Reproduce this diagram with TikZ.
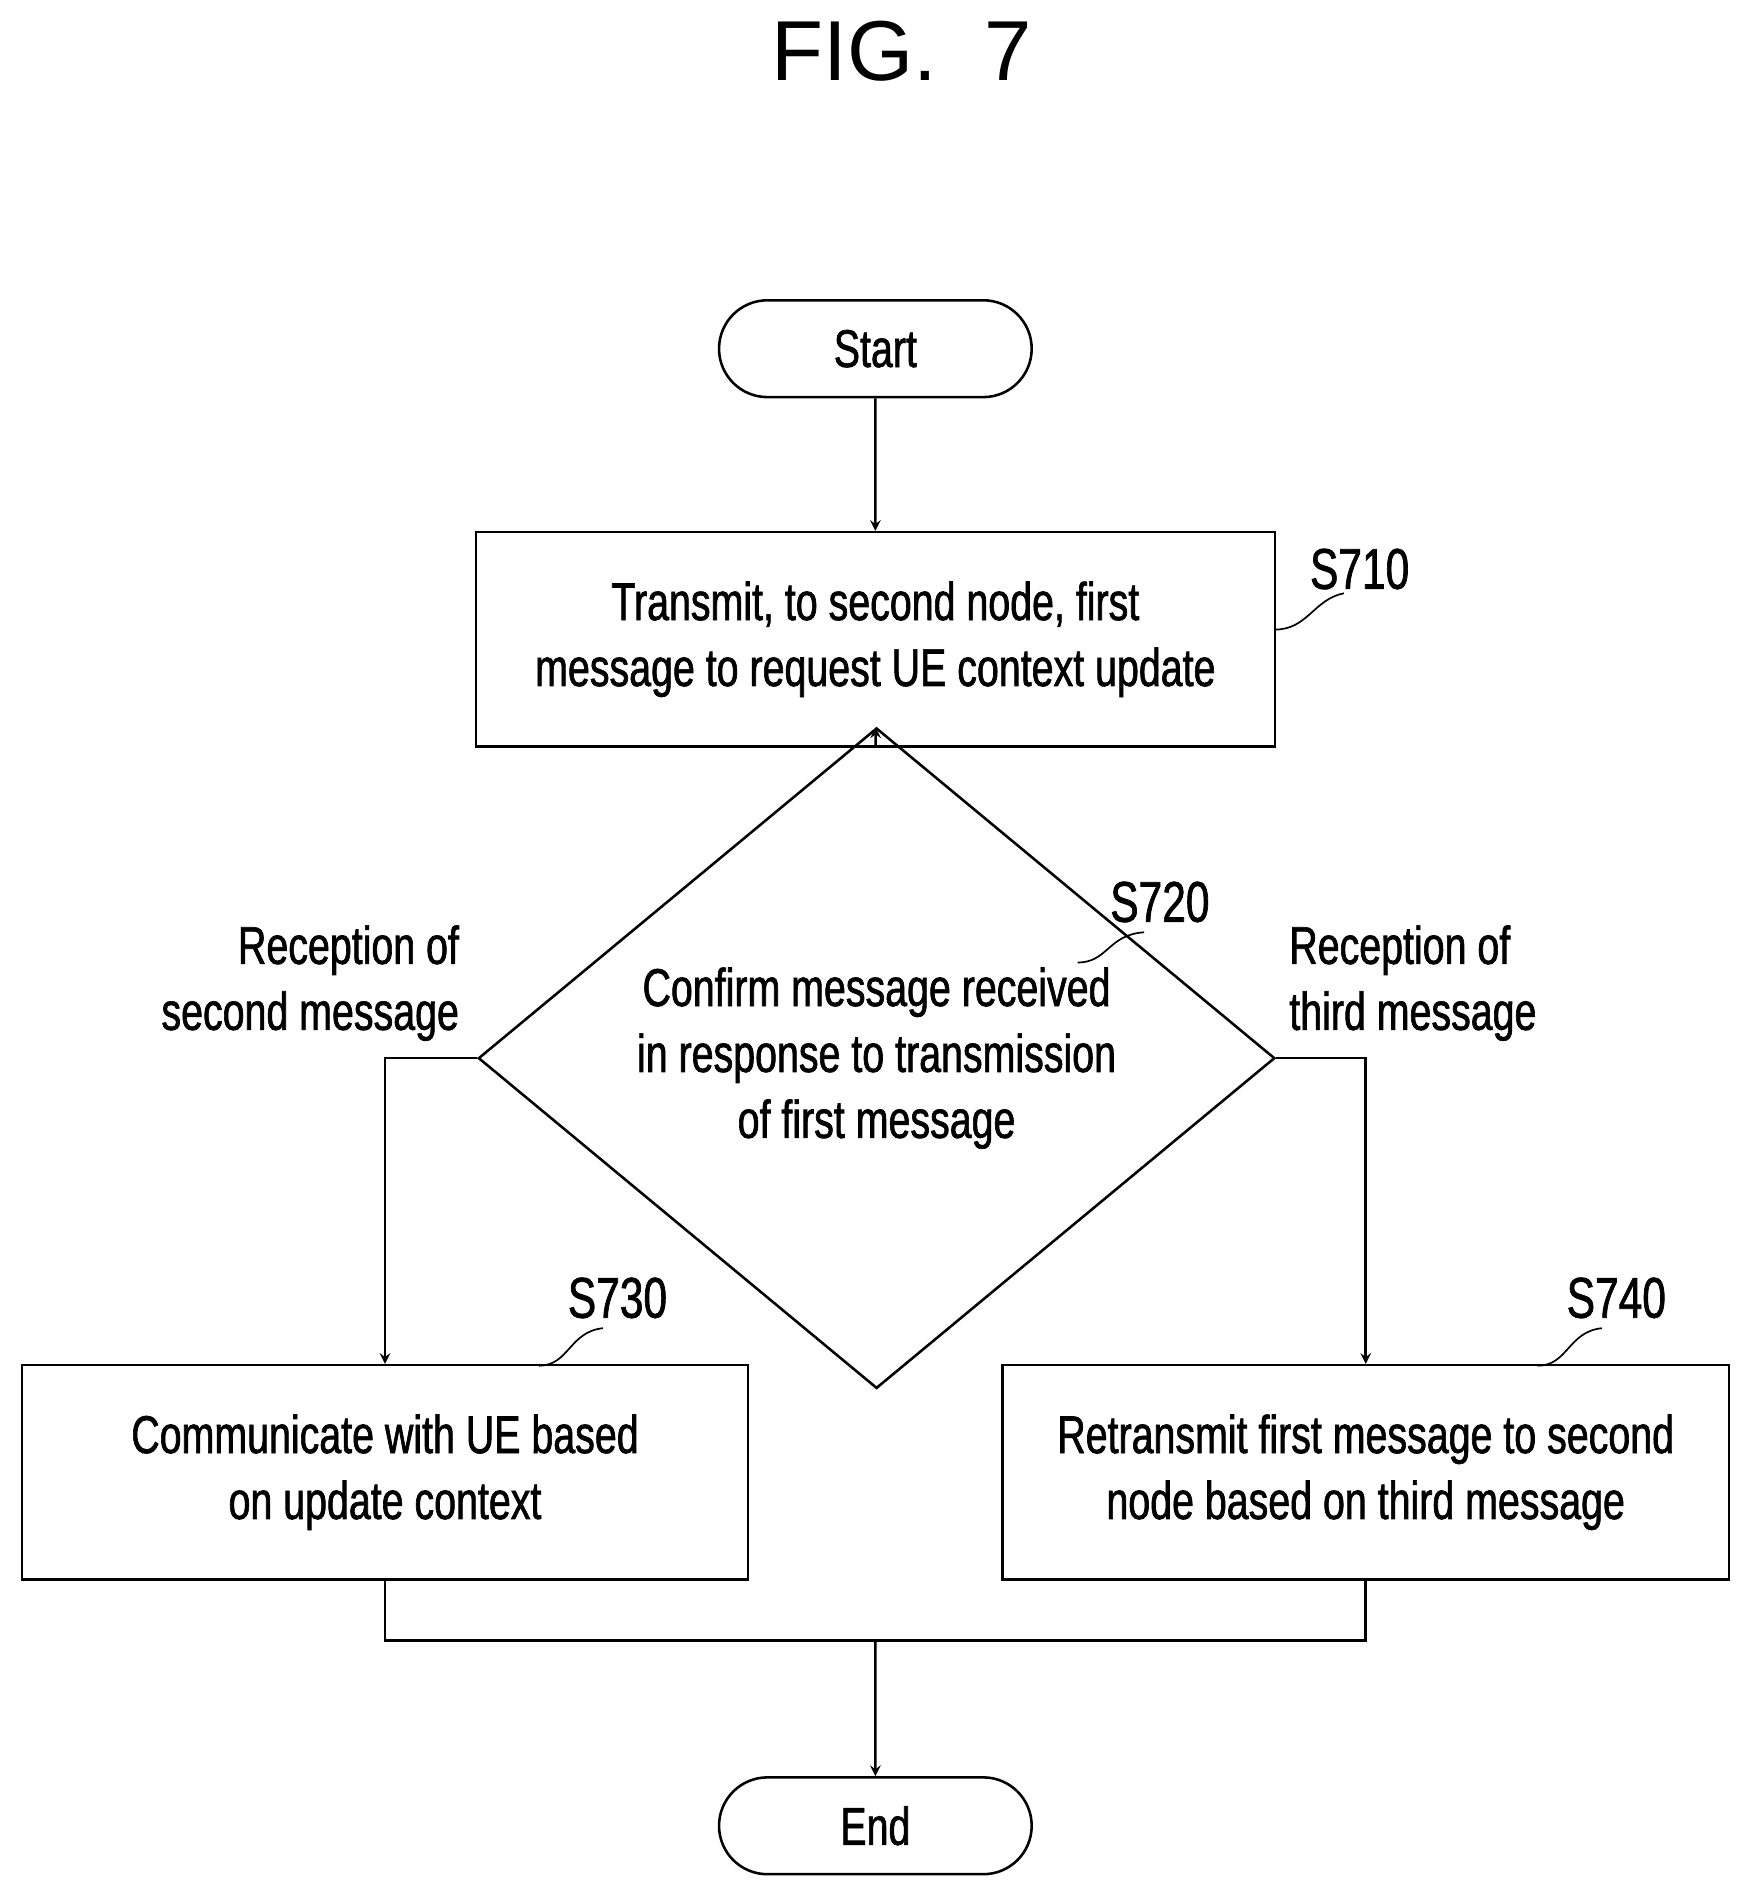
\documentclass[tikz,border=0pt]{standalone}
\usepackage{fontspec}
\setmainfont{Liberation Sans}[FakeStretch=0.74,FakeBold=1.2]
\usetikzlibrary{arrows, shapes.geometric, shapes.misc}

\begin{document}
\begin{tikzpicture}[x=0.02cm,y=-0.02cm,line width=1.2pt,>=stealth,
					every node/.style = {font=\fontsize{25}{31}\selectfont}]

\tikzstyle{terminal}=[rounded rectangle, draw, minimum width=5.4cm, minimum height=1.6cm]
\tikzstyle{process_box} = [rectangle, draw, align=center, minimum height=3.54cm]
\tikzstyle{decision} = [diamond, draw, align=center, minimum width=13.16cm, minimum height=5.64cm, inner sep=0pt]
\tikzstyle{tag}=[font=\fontsize{27}{31}\selectfont]
\tikzstyle{note}=[align=right]

\useasboundingbox (0,0) rectangle (1445,1566);

\node[font=\rmfamily\fontsize{40}{44}\selectfont] (title) at (745,42) {\addfontfeature{FakeStretch=1,FakeBold=0}FIG.\ \ 7};

\node[terminal] (start) at (723,288) {Start};
\node[process_box, minimum width=13.2cm] (s710) at (723,528) {Transmit, to second node, first\\message to request UE context update};
\node[decision] (s720) at (724,874) {Confirm message received\\in response to transmission\\of first message};
\node[process_box, minimum width=12cm] (s730) at (318,1216) {Communicate with UE based\\on update context};
\node[process_box, minimum width=12cm] (s740) at (1128,1216) {Retransmit first message to second\\node based on third message};
\node[terminal] (end) at (723,1508) {End};

\node[note, anchor=east] (recv2) at (386,812) {Reception of\\second message};
\node[align=left, anchor=west] (recv3) at (1058,812) {Reception of\\third message};

% step labels
\node[tag] (l710) at (1123,470) {S710};
\node[tag] (l720) at (958,745) {S720};
\node[tag] (l730) at (510,1072) {S730};
\node[tag] (l740) at (1335,1072) {S740};
\draw[line width=0.8pt] (1053,520) .. controls (1080,520) and (1085,495) .. (1110,490);
\draw[line width=0.8pt] (890,795) .. controls (915,795) and (915,772) .. (945,770);
\draw[line width=0.8pt] (445,1128) .. controls (470,1128) and (470,1100) .. (498,1097);
\draw[line width=0.8pt] (1270,1128) .. controls (1295,1128) and (1295,1100) .. (1323,1097);

\coordinate (merge) at (723,1355);

\draw[->] (start) -- (s710);
\draw[->] (s710) -- (s720);
\draw[->] (s720.west) -| (s730.north);
\draw[->] (s720.east) -| (s740.north);
\draw (s730.south) |- (merge) -| (s740.south);
\draw[->] (merge) -- (end);
\end{tikzpicture}
\end{document}
